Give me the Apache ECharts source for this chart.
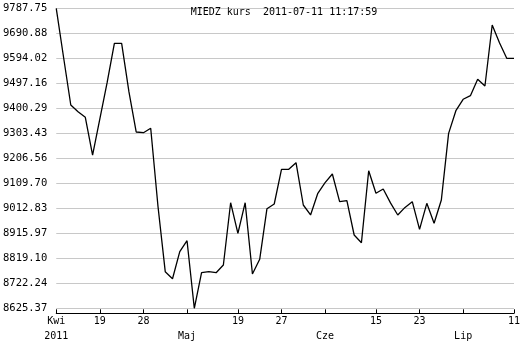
<!DOCTYPE html>
<html>
<head>
<meta charset="utf-8">
<script src="https://cdn.jsdelivr.net/npm/echarts@6/dist/echarts.min.js"></script>
<style>
html,body{margin:0;padding:0;background:#fff;}
#c{width:526px;height:346px;}
</style>
</head>
<body>
<div id="c"></div>
<script>
// Trading-session index (category) for each point, 2011-04-11 .. 2011-07-11
var categories = ['0','1','2','3','4','5','6','7','8','9','10','11','12','13','14','15','16','17','18','19','20','21','22','23','24','25','26','27','28','29','30','31','32','33','34','35','36','37','38','39','40','41','42','43','44','45','46','47','48','49','50','51','52','53','54','55','56','57','58','59','60','61','62','63'];
// MIEDZ closing prices
var prices = [9787.75, 9599.0, 9413.1, 9386.6, 9365.4, 9219.3, 9359.0, 9499.5, 9652.1, 9652.1,
              9464.6, 9308.5, 9305.7, 9322.8, 9020.6, 8767.2, 8740.0, 8844.7, 8887.3, 8625.37,
              8763.3, 8767.2, 8763.3, 8793.1, 9034.5, 8916.0, 9034.5, 8758.3, 8815.2, 9011.3,
              9029.5, 9163.9, 9163.9, 9189.5, 9025.6, 8986.9, 9070.9, 9112.0, 9145.7, 9038.4,
              9042.3, 8909.4, 8879.5, 9158.5, 9070.9, 9087.6, 9033.7, 8986.9, 9016.3, 9038.4,
              8931.4, 9032.2, 8954.7, 9045.0, 9303.3, 9391.0, 9435.2, 9449.1, 9512.6, 9486.7,
              9723.0, 9654.5, 9594.0, 9594.02];
// Y tick labels (bottom to top)
var yTickLabels = ['8625.37','8722.24','8819.10','8915.97','9012.83','9109.70','9206.56','9303.43','9400.29','9497.16','9594.02','9690.88','9787.75'];
var yMin = 8625.37, yMax = 9787.75;
// X ticks: positions and two-row labels
var xTickIdx = [0, 6, 12, 18, 25, 31, 37, 44, 50, 56, 63];
var xTickTop = ['Kwi', '19', '28', '', '19', '27', '', '15', '23', '', '11'];
var xTickBottom = ['2011', '', '', 'Maj', '', '', 'Cze', '', '', 'Lip', ''];
var titleText = 'MIEDZ kurs  2011-07-11 11:17:59';

var yInterval = (yMax - yMin) / (yTickLabels.length - 1);
var FONT = 'DejaVu Sans Mono';

var chart = echarts.init(document.getElementById('c'), null, {renderer: 'canvas'});
chart.setOption({
  animation: false,
  backgroundColor: '#ffffff',
  title: {
    text: titleText,
    left: 279,
    textAlign: 'center',
    top: 2,
    textStyle: {fontFamily: FONT, fontSize: 10, fontWeight: 'normal', color: '#000'}
  },
  grid: {left: 55, right: 12, top: 8.3, bottom: 37.7, containLabel: false},
  xAxis: {
    type: 'category',
    data: categories,
    boundaryGap: false,
    offset: 5,
    axisLine: {show: true, lineStyle: {color: '#000', width: 1}},
    axisTick: {
      show: true, inside: true, length: 4,
      lineStyle: {color: '#000'},
      interval: function (i) { return xTickIdx.indexOf(i) >= 0; }
    },
    axisLabel: {
      show: true,
      margin: 1,
      interval: function (i) { return xTickIdx.indexOf(i) >= 0; },
      formatter: function (v, i) {
        var k = xTickIdx.indexOf(i);
        if (k < 0) return '';
        return xTickTop[k] + '\n' + xTickBottom[k];
      },
      fontFamily: FONT, fontSize: 10, lineHeight: 15, color: '#000'
    },
    splitLine: {show: false}
  },
  yAxis: {
    type: 'value',
    min: yMin,
    max: yMax,
    interval: yInterval,
    axisLine: {show: false},
    axisTick: {show: false},
    axisLabel: {
      margin: 9,
      fontFamily: FONT, fontSize: 10.5, color: '#000',
      formatter: function (v) {
        var k = Math.round((v - yMin) / yInterval);
        return yTickLabels[k] !== undefined ? yTickLabels[k] : '';
      }
    },
    splitLine: {show: true, showMaxLine: false, lineStyle: {color: '#c8c8c8', width: 1}}
  },
  series: [{
    type: 'line',
    data: prices,
    showSymbol: false,
    symbol: 'none',
    lineStyle: {color: '#000', width: 1.3},
    silent: true
  }]
});
</script>
</body>
</html>
